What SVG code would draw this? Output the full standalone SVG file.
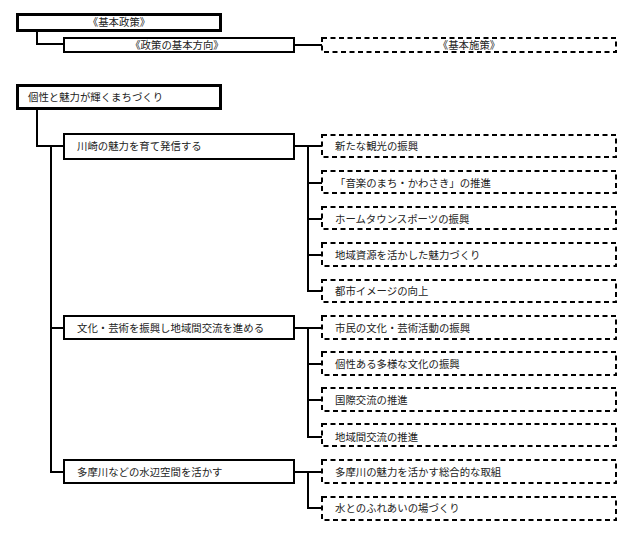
<svg xmlns="http://www.w3.org/2000/svg" width="637" height="542" viewBox="0 0 637 542">
<style>
text{font-family:"Noto Sans CJK JP","Noto Sans",sans-serif;font-size:10.4px;fill:#222}
.c{text-anchor:middle}
.b3{fill:#fff;stroke:#000;stroke-width:3}
.b2{fill:#fff;stroke:#000;stroke-width:2}
.d{fill:#fff;stroke:#000;stroke-width:2;stroke-dasharray:5 3.5}
.ln{fill:none;stroke:#000;stroke-width:2;stroke-linecap:square}
</style>
<rect width="637" height="542" fill="#fff"/>
<g id="connectors" class="ln">
<path d="M37,31 V44 H64"/>
<path d="M295,45 H321"/>
<path d="M37,109 V146 H64"/>
<path d="M51,146 V472 H64 M51,328 H64"/>
<path d="M295,146 H321 M308,146 V291 H321 M308,183 H321 M308,219 H321 M308,255 H321"/>
<path d="M295,328 H321 M308,328 V437 H321 M308,364 H321 M308,400 H321"/>
<path d="M295,472 H321 M308,472 V508 H321"/>
</g>
<g id="h1"><rect class="b3" x="17.5" y="14.5" width="203" height="16"/><text class="c" x="119" y="26">《基本政策》</text></g>
<g id="h2"><rect class="b2" x="64" y="38" width="230" height="14"/><text class="c" x="177" y="48.6">《政策の基本方向》</text></g>
<g id="h3"><rect class="d" x="322" y="38" width="294" height="14"/><text class="c" x="469" y="48.6">《基本施策》</text></g>
<g id="n0"><rect class="b3" x="17.5" y="85.5" width="203" height="23"/><text x="28" y="100.6">個性と魅力が輝くまちづくり</text></g>
<g id="n1"><rect class="b2" x="64" y="134" width="230" height="25"/><text x="77" y="149.6">川崎の魅力を育て発信する</text></g>
<g id="n2"><rect class="b2" x="64" y="316" width="230" height="23"/><text x="77" y="331.6">文化・芸術を振興し地域間交流を進める</text></g>
<g id="n3"><rect class="b2" x="64" y="460" width="230" height="23"/><text x="77" y="475.6">多摩川などの水辺空間を活かす</text></g>
<g id="s1"><rect class="d" x="322" y="135" width="294" height="22"/><text x="335" y="149.6">新たな観光の振興</text></g>
<g id="s2"><rect class="d" x="322" y="171" width="294" height="22"/><text x="335" y="186.6">「音楽のまち・かわさき」の推進</text></g>
<g id="s3"><rect class="d" x="322" y="207" width="294" height="22"/><text x="335" y="222.6">ホームタウンスポーツの振興</text></g>
<g id="s4"><rect class="d" x="322" y="243" width="294" height="23"/><text x="335" y="258.6">地域資源を活かした魅力づくり</text></g>
<g id="s5"><rect class="d" x="322" y="280" width="294" height="22"/><text x="335" y="294.6">都市イメージの向上</text></g>
<g id="s6"><rect class="d" x="322" y="316" width="294" height="23"/><text x="335" y="331.6">市民の文化・芸術活動の振興</text></g>
<g id="s7"><rect class="d" x="322" y="352" width="294" height="23"/><text x="335" y="367.6">個性ある多様な文化の振興</text></g>
<g id="s8"><rect class="d" x="322" y="388" width="294" height="23"/><text x="335" y="403.6">国際交流の推進</text></g>
<g id="s9"><rect class="d" x="322" y="424" width="294" height="22"/><text x="335" y="440.6">地域間交流の推進</text></g>
<g id="s10"><rect class="d" x="322" y="460" width="294" height="23"/><text x="335" y="475.6">多摩川の魅力を活かす総合的な取組</text></g>
<g id="s11"><rect class="d" x="322" y="497" width="294" height="23"/><text x="335" y="511.6">水とのふれあいの場づくり</text></g>
</svg>
